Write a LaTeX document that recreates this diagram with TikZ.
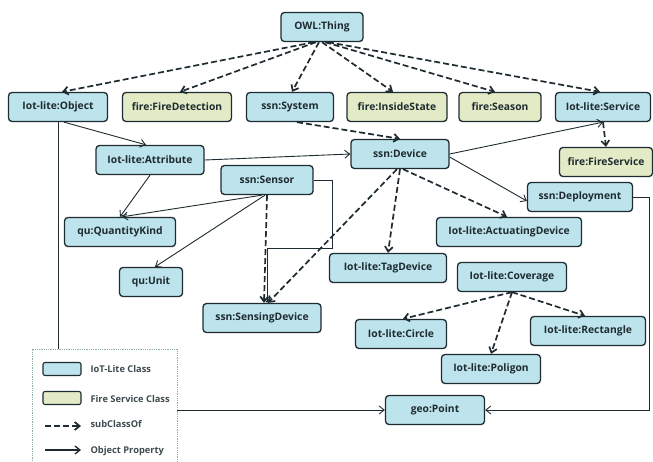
\documentclass[tikz,border=0pt]{standalone}
\usepackage{fontspec}
\setmainfont{Open Sans}
\usetikzlibrary{arrows.meta}
\definecolor{iotblue}{HTML}{BDE3EC}
\definecolor{firegreen}{HTML}{E2EBC6}
\definecolor{boxline}{HTML}{1E2B30}
\definecolor{legline}{HTML}{8FB0A8}
\tikzset{
  cls/.style={draw=boxline, line width=1.3pt, rounded corners=3.5pt, minimum height=29pt,
    inner xsep=8pt, font=\bfseries\fontsize{10.3}{12}\selectfont, text=boxline},
  iotcls/.style={cls, fill=iotblue},
  firecls/.style={cls, fill=firegreen},
  subcls/.style={-{Straight Barb[length=5pt,width=8pt]}, line width=1.7pt, dash pattern=on 6pt off 3pt, color=boxline},
  objprop/.style={-{Straight Barb[length=5pt,width=8pt]}, line width=0.9pt, color=boxline},
  legtext/.style={anchor=west, font=\bfseries\fontsize{9.3}{11}\selectfont, text=boxline!85}
}
\begin{document}
\begin{tikzpicture}[x=1pt,y=-1pt]
\useasboundingbox (0,0) rectangle (653,461);
% classes
\node[iotcls, minimum width=82pt] (thing) at (322,27) {OWL:Thing};
\node[iotcls, minimum width=99pt] (object) at (58,107) {Iot-lite:Object};
\node[firecls, minimum width=109pt] (firedet) at (177,107) {fire:FireDetection};
\node[iotcls, minimum width=87pt] (system) at (290,107) {ssn:System};
\node[firecls, minimum width=100pt] (inside) at (397,107) {fire:InsideState};
\node[firecls, minimum width=82pt] (season) at (500,107) {fire:Season};
\node[iotcls, minimum width=95pt] (service) at (603,107) {Iot-lite:Service};
\node[firecls, minimum width=93pt] (fireserv) at (606,162) {fire:FireService};
\node[iotcls, minimum width=98pt] (device) at (400,154) {ssn:Device};
\node[iotcls, minimum width=105pt] (deploy) at (580,197) {ssn:Deployment};
\node[iotcls, minimum width=108pt] (attr) at (150,160) {Iot-lite:Attribute};
\node[iotcls, minimum width=92pt] (sensor) at (267,180) {ssn:Sensor};
\node[iotcls, minimum width=111pt] (qkind) at (120,232) {qu:QuantityKind};
\node[iotcls, minimum width=63pt] (unit) at (151,282) {qu:Unit};
\node[iotcls, minimum width=118pt] (sensdev) at (262,318) {ssn:SensingDevice};
\node[iotcls, minimum width=145pt] (actdev) at (509,232) {Iot-lite:ActuatingDevice};
\node[iotcls, minimum width=117pt] (tagdev) at (388,268) {Iot-lite:TagDevice};
\node[iotcls, minimum width=109pt] (coverage) at (512,277) {Iot-lite:Coverage};
\node[iotcls, minimum width=91pt] (circle) at (401,334) {Iot-lite:Circle};
\node[iotcls, minimum width=115pt] (rect) at (588,331) {Iot-lite:Rectangle};
\node[iotcls, minimum width=99pt] (poligon) at (491,369) {Iot-lite:Poligon};
\node[iotcls, minimum width=99pt] (point) at (435,410) {geo:Point};

% subClassOf
\draw[subcls] ([xshift=-8pt]thing.south) -- ([xshift=4pt]object.north);
\draw[subcls] ([xshift=-6pt]thing.south) -- ([xshift=3pt]firedet.north);
\draw[subcls] ([xshift=-3pt]thing.south) -- ([xshift=2pt]system.north);
\draw[subcls] ([xshift=0pt]thing.south) -- ([xshift=-4pt]inside.north);
\draw[subcls] ([xshift=3pt]thing.south) -- ([xshift=-5pt]season.north);
\draw[subcls] ([xshift=6pt]thing.south) -- ([xshift=-3pt]service.north);
\draw[subcls] ([xshift=7pt]system.south) -- (device.north);
\draw[subcls] (service.south) -- (fireserv.north);
\draw[subcls] (sensor.south) -- ([xshift=2pt]sensdev.north);
\draw[subcls] ([xshift=-3pt]device.south) -- ([xshift=6pt]sensdev.north);
\draw[subcls] (device.south) -- (tagdev.north);
\draw[subcls] ([xshift=3pt]device.south) -- ([xshift=-2pt]actdev.north);
\draw[subcls] (coverage.south) -- ([xshift=2pt]circle.north);
\draw[subcls] (coverage.south) -- (poligon.north);
\draw[subcls] (coverage.south) -- ([xshift=-3pt]rect.north);

% object properties
\draw[objprop] ([xshift=6pt]object.south) -- ([xshift=-4pt]attr.north);
\draw[objprop] (object.south) |- (point.west);
\draw[objprop] (attr.east) -- (device.west);
\draw[objprop] (attr.south) -- (qkind.north);
\draw[objprop] ([xshift=-5pt]sensor.south) -- ([xshift=2pt]qkind.north);
\draw[objprop] ([xshift=-2pt]sensor.south) -- ([xshift=4pt]unit.north);
\draw[objprop] (sensor.east) -- ++(19,0) -- ++(0,68) -| ([xshift=5pt]sensdev.north);
\draw[objprop] (device.east) -- (service.south);
\draw[objprop] ([yshift=-3pt]device.east) -- ([yshift=-4pt]deploy.west);
\draw[objprop] (deploy.east) -- ++(16,0) |- (point.east);

% legend
\draw[legline, densely dotted, fill=white, line width=0.8pt] (32,470) -- (32,349) -- (177,349) -- (177,470);
\node[draw=boxline, line width=1.1pt, fill=iotblue, rounded corners=2pt, minimum width=38pt, minimum height=13pt, inner sep=0pt] (legiot) at (62,369) {};
\node[legtext] (legiottext) at (87,369) {IoT-Lite Class};
\node[draw=boxline, line width=1.1pt, fill=firegreen, rounded corners=2pt, minimum width=38pt, minimum height=13pt, inner sep=0pt] (legfire) at (62,398) {};
\node[legtext] (legfiretext) at (87,399) {Fire Service Class};
\coordinate (legsubA) at (45,426);
\coordinate (legsubB) at (81,426);
\draw[subcls] (legsubA) -- (legsubB);
\node[legtext] (legsubtext) at (87,424) {subClassOf};
\coordinate (legobjA) at (45,450);
\coordinate (legobjB) at (81,450);
\draw[objprop, line width=1.3pt] (legobjA) -- (legobjB);
\node[legtext] (legobjtext) at (87,451) {Object Property};
\end{tikzpicture}
\end{document}
